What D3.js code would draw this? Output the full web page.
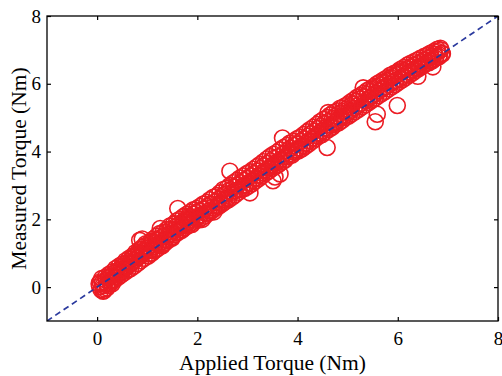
<!DOCTYPE html>
<html>
<head>
<meta charset="utf-8">
<script src="https://cdn.jsdelivr.net/npm/d3@7"></script>
<style>
  body { margin: 0; background: #fff; }
  text { font-family: "Liberation Serif", "Times New Roman", serif; }
</style>
</head>
<body>
<div id="chart"></div>
<script>
// applied vs measured torque
const appliedTorque = [
  0.05, 0.08, 0.10, 0.12, 0.15, 0.18, 0.20, 0.22, 0.25, 0.28, 0.30, 0.33, 0.36, 0.38, 0.40, 0.43, 0.46, 0.48, 0.50, 0.53,
  0.56, 0.58, 0.60, 0.63, 0.66, 0.68, 0.70, 0.73, 0.76, 0.78, 0.80, 0.83, 0.86, 0.88, 0.90, 0.93, 0.96, 0.98, 0.12, 0.20,
  0.06, 0.30, 0.85, 0.90, 1.26,
  1.00, 1.03, 1.06, 1.08, 1.10, 1.13, 1.16, 1.18, 1.20, 1.23, 1.26, 1.28, 1.30, 1.33, 1.36, 1.38, 1.40, 1.43, 1.46, 1.48,
  1.50, 1.53, 1.56, 1.58, 1.61, 1.63, 1.66, 1.68, 1.70, 1.73, 1.76, 1.78, 1.80, 1.83, 1.86, 1.88, 1.90, 1.93, 1.96, 1.98,
  2.00, 2.03, 2.06, 2.10, 2.13, 2.16, 2.20, 2.23, 2.26, 2.30, 2.33, 2.36, 2.40, 2.43, 2.46, 2.50, 2.53, 2.56, 2.60, 2.63,
  2.65, 2.70, 2.73, 2.76, 2.80, 2.83, 2.86, 2.90, 2.93, 2.96, 3.05,
  3.00, 3.03, 3.06, 3.10, 3.13, 3.16, 3.20, 3.23, 3.26, 3.30, 3.33, 3.36, 3.40, 3.43, 3.46, 3.50, 3.53, 3.55, 3.58, 3.62,
  3.66, 3.70, 3.72, 3.76, 3.80, 3.83, 3.86, 3.90, 3.93, 3.96, 3.51, 3.65,
  4.00, 4.03, 4.06, 4.10, 4.13, 4.16, 4.20, 4.23, 4.26, 4.30, 4.33, 4.36, 4.40, 4.43, 4.46, 4.50, 4.53, 4.56, 4.61, 4.59,
  4.63, 4.66, 4.70, 4.73, 4.76, 4.80, 4.83, 4.86, 4.90, 4.93, 4.96,
  5.00, 5.03, 5.06, 5.10, 5.13, 5.16, 5.20, 5.23, 5.26, 5.31, 5.33, 5.36, 5.40, 5.43, 5.46, 5.50, 5.53, 5.55, 5.56, 5.60,
  5.63, 5.66, 5.70, 5.73, 5.76, 5.80, 5.83, 5.86, 5.90, 5.93, 5.96, 5.99, 6.00, 6.03, 6.06, 6.10, 6.13, 6.16, 6.20, 6.23,
  6.26, 6.30, 6.33, 6.36, 6.40, 6.40, 6.43, 6.46, 6.50, 6.53, 6.56, 6.60, 6.63, 6.66, 6.70, 6.73, 6.76, 6.80, 6.83, 6.86,
  6.88, 5.59, 6.70,
  // second pass through the band
  0.04, 0.09, 0.14, 0.17, 0.21, 0.24, 0.27, 0.31, 0.34, 0.37, 0.41, 0.44, 0.47, 0.51, 0.54, 0.57, 0.61, 0.64, 0.67, 0.71,
  0.74, 0.77, 0.81, 0.84, 0.87, 0.91, 0.94, 0.97,
  1.02, 1.05, 1.09, 1.12, 1.15, 1.19, 1.22, 1.25, 1.29, 1.32, 1.35, 1.39, 1.42, 1.45, 1.49, 1.52, 1.55, 1.59, 1.62, 1.65,
  1.69, 1.72, 1.75, 1.79, 1.82, 1.85, 1.89, 1.92, 1.95, 1.99,
  2.02, 2.05, 2.09, 2.12, 2.15, 2.19, 2.22, 2.25, 2.29, 2.32, 2.35, 2.39, 2.42, 2.45, 2.49, 2.52, 2.55, 2.59, 2.62, 2.65,
  2.69, 2.72, 2.75, 2.79, 2.82, 2.85, 2.89, 2.92, 2.95, 2.99,
  3.02, 3.05, 3.09, 3.12, 3.15, 3.19, 3.22, 3.25, 3.29, 3.32, 3.35, 3.39, 3.42, 3.45, 3.49, 3.52, 3.55, 3.59, 3.62, 3.65,
  3.69, 3.72, 3.75, 3.79, 3.82, 3.85, 3.89, 3.92, 3.95, 3.99,
  4.02, 4.05, 4.09, 4.12, 4.15, 4.19, 4.22, 4.25, 4.29, 4.32, 4.35, 4.39, 4.42, 4.45, 4.49, 4.52, 4.55, 4.59, 4.62, 4.65,
  4.69, 4.72, 4.75, 4.79, 4.82, 4.85, 4.89, 4.92, 4.95, 4.99,
  5.02, 5.05, 5.09, 5.12, 5.15, 5.19, 5.22, 5.25, 5.29, 5.32, 5.35, 5.39, 5.42, 5.45, 5.49, 5.52, 5.55, 5.59, 5.62, 5.65,
  5.69, 5.72, 5.75, 5.79, 5.82, 5.85, 5.89, 5.92, 5.95, 5.99, 6.02, 6.05, 6.09, 6.12, 6.15, 6.19, 6.22, 6.25, 6.29, 6.32,
  6.35, 6.39, 6.42, 6.45, 6.49, 6.52, 6.55, 6.59, 6.62, 6.65, 6.69, 6.72, 6.75, 6.79, 6.82, 6.85, 6.89
];
const measuredTorque = [
  0.02, -0.08, 0.12, 0.05, -0.05, 0.20, 0.10, 0.28, 0.18, 0.32, 0.22, 0.40, 0.30, 0.45, 0.36, 0.50, 0.42, 0.58, 0.47, 0.62,
  0.55, 0.70, 0.60, 0.76, 0.68, 0.82, 0.72, 0.88, 0.80, 0.95, 0.86, 1.02, 0.92, 1.12, 1.00, 1.08, 1.22, 1.05, -0.12, -0.02,
  0.15, 0.10, 1.38, 1.42, 1.73,
  1.15, 0.98, 1.25, 1.10, 1.35, 1.20, 1.30, 1.12, 1.40, 1.28, 1.45, 1.33, 1.22, 1.52, 1.40, 1.62, 1.48, 1.55, 1.70, 1.58,
  1.45, 1.68, 1.78, 1.62, 2.32, 1.75, 1.88, 1.70, 1.82, 1.95, 1.85, 2.02, 1.92, 2.10, 1.98, 1.90, 2.05, 2.15, 2.02, 2.20,
  2.08, 2.25, 2.12, 2.00, 2.30, 2.18, 2.38, 2.25, 2.45, 2.35, 2.22, 2.52, 2.42, 2.60, 2.48, 2.70, 2.58, 2.75, 2.62, 2.85,
  3.42, 2.80, 2.95, 2.85, 3.00, 2.88, 3.08, 2.98, 3.15, 3.02, 2.78,
  3.20, 3.08, 3.28, 3.15, 3.35, 3.22, 3.42, 3.30, 3.50, 3.38, 3.58, 3.45, 3.65, 3.52, 3.72, 3.60, 3.80, 3.25, 3.68, 3.85,
  3.75, 4.40, 3.92, 3.85, 4.02, 3.92, 4.10, 4.00, 4.18, 4.05, 3.14, 3.34,
  4.22, 4.10, 4.30, 4.18, 4.38, 4.25, 4.45, 4.32, 4.52, 4.40, 4.60, 4.48, 4.68, 4.55, 4.75, 4.62, 4.82, 4.70, 5.15, 4.12,
  4.90, 4.78, 4.98, 4.85, 5.05, 4.92, 5.12, 5.00, 5.18, 5.05, 5.25,
  5.15, 5.32, 5.20, 5.40, 5.28, 5.48, 5.35, 5.55, 5.42, 5.88, 5.62, 5.50, 5.70, 5.58, 5.78, 5.65, 5.85, 4.88, 5.72, 5.92,
  5.80, 5.98, 5.85, 6.05, 5.92, 6.10, 5.98, 6.18, 6.05, 6.22, 6.10, 5.36, 6.28, 6.15, 6.35, 6.22, 6.40, 6.28, 6.45, 6.35,
  6.50, 6.40, 6.55, 6.45, 6.22, 6.60, 6.50, 6.65, 6.55, 6.70, 6.62, 6.75, 6.68, 6.80, 6.72, 6.88, 6.80, 6.95, 6.85, 7.00,
  6.90, 5.10, 6.50,
  0.10, 0.25, -0.10, 0.30, 0.05, 0.38, 0.12, 0.45, 0.20, 0.55, 0.28, 0.62, 0.35, 0.68, 0.42, 0.78, 0.50, 0.85, 0.55, 0.92,
  0.62, 1.02, 0.70, 1.10, 0.78, 1.18, 0.85, 1.28,
  0.92, 1.32, 1.00, 1.42, 1.08, 1.50, 1.15, 1.58, 1.25, 1.62, 1.30, 1.70, 1.38, 1.80, 1.48, 1.85, 1.55, 1.95, 1.62, 2.00,
  1.68, 2.08, 1.75, 2.15, 1.82, 2.20, 1.85, 2.28, 1.95, 2.32,
  1.98, 2.38, 2.05, 2.45, 2.10, 2.50, 2.18, 2.58, 2.25, 2.65, 2.32, 2.70, 2.38, 2.78, 2.45, 2.88, 2.52, 2.92, 2.58, 3.00,
  2.65, 3.08, 2.72, 3.15, 2.80, 3.22, 2.88, 3.28, 2.92, 3.35,
  2.98, 3.40, 3.05, 3.48, 3.12, 3.55, 3.20, 3.62, 3.28, 3.70, 3.35, 3.78, 3.42, 3.85, 3.50, 3.92, 3.55, 3.98, 3.62, 4.05,
  3.70, 4.12, 3.75, 4.18, 3.85, 4.25, 3.90, 4.30, 3.98, 4.38,
  4.02, 4.42, 4.08, 4.50, 4.15, 4.58, 4.22, 4.65, 4.30, 4.72, 4.38, 4.80, 4.45, 4.88, 4.50, 4.95, 4.58, 5.00, 4.65, 5.08,
  4.72, 5.15, 4.80, 5.20, 4.85, 5.28, 4.92, 5.32, 5.00, 5.38,
  5.05, 5.45, 5.12, 5.52, 5.18, 5.60, 5.25, 5.65, 5.32, 5.72, 5.38, 5.80, 5.45, 5.85, 5.52, 5.92, 5.58, 6.00, 5.65, 6.05,
  5.72, 6.12, 5.78, 6.18, 5.85, 6.25, 5.92, 6.30, 5.98, 6.35, 6.05, 6.42, 6.12, 6.48, 6.18, 6.55, 6.25, 6.60, 6.32, 6.65,
  6.38, 6.70, 6.45, 6.75, 6.52, 6.80, 6.58, 6.85, 6.62, 6.90, 6.68, 6.95, 6.75, 7.02, 6.80, 7.05, 6.88
];
const xTicks = [0, 2, 4, 6, 8];
const yTicks = [0, 2, 4, 6, 8];

const width = 502, height = 376;
const margin = { top: 16, right: 4, bottom: 55, left: 47 };
const iw = width - margin.left - margin.right;
const ih = height - margin.top - margin.bottom;

const svg = d3.select('#chart').append('svg')
  .attr('width', width)
  .attr('height', height);

const g = svg.append('g')
  .attr('transform', `translate(${margin.left},${margin.top})`);

const x = d3.scaleLinear().domain([-1, 8]).range([0, iw]);
const y = d3.scaleLinear().domain([-1, 8]).range([ih, 0]);

g.append('defs').append('clipPath').attr('id', 'clip')
  .append('rect').attr('width', iw).attr('height', ih);

const plot = g.append('g').attr('clip-path', 'url(#clip)');

// measurements
const points = appliedTorque.map((v, i) => [v, measuredTorque[i]]);
plot.selectAll('circle')
  .data(points)
  .join('circle')
  .attr('cx', d => x(d[0]))
  .attr('cy', d => y(d[1]))
  .attr('r', 8)
  .attr('fill', 'none')
  .attr('stroke', '#ec1c24')
  .attr('stroke-width', 1.6);

// ideal line
plot.append('line')
  .attr('x1', x(-1)).attr('y1', y(-1))
  .attr('x2', x(8)).attr('y2', y(8))
  .attr('stroke', '#2b3a9e')
  .attr('stroke-width', 1.7)
  .attr('stroke-dasharray', '6,4');

// axes, ticks inside on all sides
const tickLen = 4;
const styleAxis = sel => {
  sel.select('.domain').remove();
  sel.selectAll('.tick line').attr('stroke', '#000').attr('stroke-width', 1.2);
  sel.selectAll('.tick text').attr('font-size', 19).attr('fill', '#000')
    .style('font-family', '"Liberation Serif", serif');
};

g.append('g').attr('transform', `translate(0,${ih})`)
  .call(d3.axisBottom(x).tickValues(xTicks).tickSize(-tickLen).tickPadding(11))
  .call(styleAxis);
g.append('g')
  .call(d3.axisTop(x).tickValues(xTicks).tickSize(-tickLen).tickFormat(''))
  .call(styleAxis);
g.append('g')
  .call(d3.axisLeft(y).tickValues(yTicks).tickSize(-tickLen).tickPadding(6))
  .call(styleAxis);
g.append('g').attr('transform', `translate(${iw},0)`)
  .call(d3.axisRight(y).tickValues(yTicks).tickSize(-tickLen).tickFormat(''))
  .call(styleAxis);

g.append('rect')
  .attr('width', iw).attr('height', ih)
  .attr('fill', 'none')
  .attr('stroke', '#000')
  .attr('stroke-width', 1.3);

// labels
svg.append('text')
  .attr('x', margin.left + iw / 2)
  .attr('y', 370)
  .attr('text-anchor', 'middle')
  .attr('font-size', 21.5)
  .text('Applied Torque (Nm)');

svg.append('text')
  .attr('transform', `translate(26,${margin.top + ih / 2}) rotate(-90)`)
  .attr('text-anchor', 'middle')
  .attr('font-size', 21.5)
  .text('Measured Torque (Nm)');
</script>
</body>
</html>
